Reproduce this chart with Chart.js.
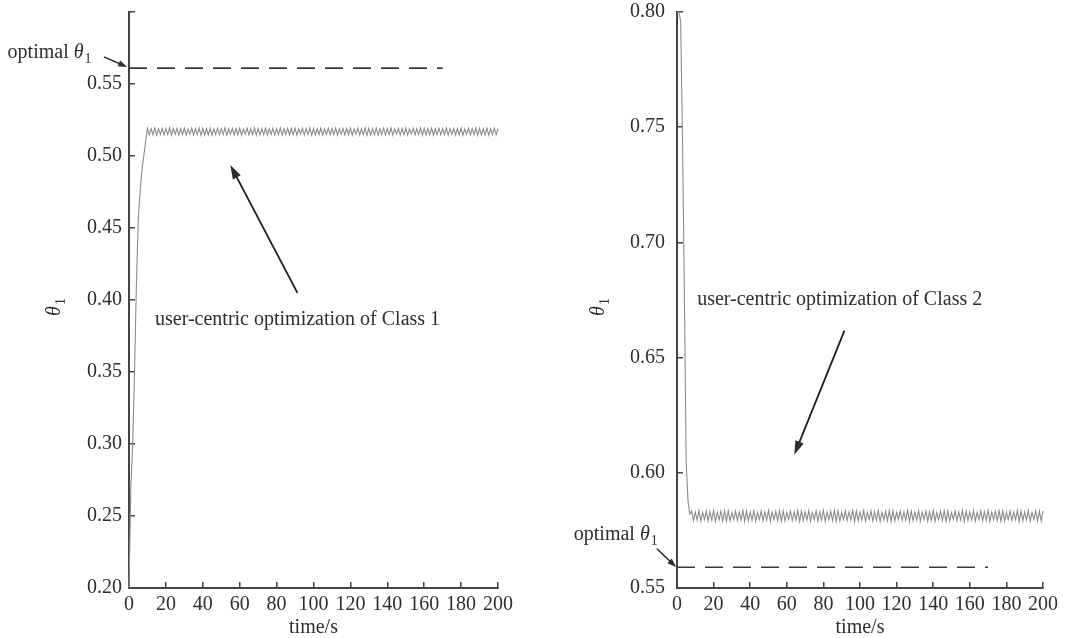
<!DOCTYPE html>
<html lang="en">
<head>
  <meta charset="UTF-8">
  <title>theta_1 convergence</title>
  <script src="https://cdn.jsdelivr.net/npm/chart.js"></script>
  <style>
    html, body { margin: 0; padding: 0; background: #fff; }
    .wrap { position: relative; width: 1065px; height: 638px; }
    canvas { position: absolute; top: 0; }
    #leftChart { left: 0; }
    #rightChart { left: 540px; }
  </style>
</head>
<body>
  <div class="wrap">
    <canvas id="leftChart" width="540" height="638"></canvas>
    <canvas id="rightChart" width="525" height="638"></canvas>
  </div>

  <script>
    // time axis (seconds)
    const timeSec = [
      0,1,2,3,4,5,6,7,8,9,10,11,12,13,14,15,16,17,18,19,
      20,21,22,23,24,25,26,27,28,29,30,31,32,33,34,35,36,37,38,39,
      40,41,42,43,44,45,46,47,48,49,50,51,52,53,54,55,56,57,58,59,
      60,61,62,63,64,65,66,67,68,69,70,71,72,73,74,75,76,77,78,79,
      80,81,82,83,84,85,86,87,88,89,90,91,92,93,94,95,96,97,98,99,
      100,101,102,103,104,105,106,107,108,109,110,111,112,113,114,115,116,117,118,119,
      120,121,122,123,124,125,126,127,128,129,130,131,132,133,134,135,136,137,138,139,
      140,141,142,143,144,145,146,147,148,149,150,151,152,153,154,155,156,157,158,159,
      160,161,162,163,164,165,166,167,168,169,170,171,172,173,174,175,176,177,178,179,
      180,181,182,183,184,185,186,187,188,189,190,191,192,193,194,195,196,197,198,199,
      200
    ];

    // Class 1: theta_1 under user-centric optimization
    const class1Theta = [
      0.200,0.270,0.300,0.350,0.410,0.455,0.475,0.490,0.500,0.510,
      0.5192,0.5146,0.5190,0.5148,0.5194,0.5145,0.5189,0.5150,0.5193,0.5147,
      0.5190,0.5149,0.5195,0.5144,0.5188,0.5151,0.5192,0.5146,0.5191,0.5148,
      0.5194,0.5145,0.5187,0.5152,0.5193,0.5146,0.5190,0.5149,0.5195,0.5144,
      0.5192,0.5146,0.5190,0.5148,0.5194,0.5145,0.5189,0.5150,0.5193,0.5147,
      0.5190,0.5149,0.5195,0.5144,0.5188,0.5151,0.5192,0.5146,0.5191,0.5148,
      0.5194,0.5145,0.5187,0.5152,0.5193,0.5146,0.5190,0.5149,0.5195,0.5144,
      0.5192,0.5146,0.5190,0.5148,0.5194,0.5145,0.5189,0.5150,0.5193,0.5147,
      0.5190,0.5149,0.5195,0.5144,0.5188,0.5151,0.5192,0.5146,0.5191,0.5148,
      0.5194,0.5145,0.5187,0.5152,0.5193,0.5146,0.5190,0.5149,0.5195,0.5144,
      0.5192,0.5146,0.5190,0.5148,0.5194,0.5145,0.5189,0.5150,0.5193,0.5147,
      0.5190,0.5149,0.5195,0.5144,0.5188,0.5151,0.5192,0.5146,0.5191,0.5148,
      0.5194,0.5145,0.5187,0.5152,0.5193,0.5146,0.5190,0.5149,0.5195,0.5144,
      0.5192,0.5146,0.5190,0.5148,0.5194,0.5145,0.5189,0.5150,0.5193,0.5147,
      0.5190,0.5149,0.5195,0.5144,0.5188,0.5151,0.5192,0.5146,0.5191,0.5148,
      0.5194,0.5145,0.5187,0.5152,0.5193,0.5146,0.5190,0.5149,0.5195,0.5144,
      0.5192,0.5146,0.5190,0.5148,0.5194,0.5145,0.5189,0.5150,0.5193,0.5147,
      0.5190,0.5149,0.5195,0.5144,0.5188,0.5151,0.5192,0.5146,0.5191,0.5148,
      0.5194,0.5145,0.5187,0.5152,0.5193,0.5146,0.5190,0.5149,0.5195,0.5144,
      0.5192,0.5146,0.5190,0.5148,0.5194,0.5145,0.5189,0.5150,0.5193,0.5147,
      0.5191
    ];

    // Class 2: theta_1 under user-centric optimization
    const class2Theta = [
      0.800,0.800,0.796,0.745,0.680,0.605,0.588,0.582,
      0.5834,0.5792,0.5830,0.5795,0.5836,0.5790,0.5828,0.5797,0.5835,0.5791,
      0.5831,0.5794,0.5837,0.5789,0.5829,0.5796,0.5833,0.5792,0.5836,0.5790,
      0.5835,0.5791,0.5827,0.5798,0.5834,0.5793,0.5830,0.5795,0.5837,0.5789,
      0.5834,0.5792,0.5830,0.5795,0.5836,0.5790,0.5828,0.5797,0.5835,0.5791,
      0.5831,0.5794,0.5837,0.5789,0.5829,0.5796,0.5833,0.5792,0.5836,0.5790,
      0.5835,0.5791,0.5827,0.5798,0.5834,0.5793,0.5830,0.5795,0.5837,0.5789,
      0.5834,0.5792,0.5830,0.5795,0.5836,0.5790,0.5828,0.5797,0.5835,0.5791,
      0.5831,0.5794,0.5837,0.5789,0.5829,0.5796,0.5833,0.5792,0.5836,0.5790,
      0.5835,0.5791,0.5827,0.5798,0.5834,0.5793,0.5830,0.5795,0.5837,0.5789,
      0.5834,0.5792,0.5830,0.5795,0.5836,0.5790,0.5828,0.5797,0.5835,0.5791,
      0.5831,0.5794,0.5837,0.5789,0.5829,0.5796,0.5833,0.5792,0.5836,0.5790,
      0.5835,0.5791,0.5827,0.5798,0.5834,0.5793,0.5830,0.5795,0.5837,0.5789,
      0.5834,0.5792,0.5830,0.5795,0.5836,0.5790,0.5828,0.5797,0.5835,0.5791,
      0.5831,0.5794,0.5837,0.5789,0.5829,0.5796,0.5833,0.5792,0.5836,0.5790,
      0.5835,0.5791,0.5827,0.5798,0.5834,0.5793,0.5830,0.5795,0.5837,0.5789,
      0.5834,0.5792,0.5830,0.5795,0.5836,0.5790,0.5828,0.5797,0.5835,0.5791,
      0.5831,0.5794,0.5837,0.5789,0.5829,0.5796,0.5833,0.5792,0.5836,0.5790,
      0.5835,0.5791,0.5827,0.5798,0.5834,0.5793,0.5830,0.5795,0.5837,0.5789,
      0.5834,0.5792,0.5830,0.5795,0.5836,0.5790,0.5828,0.5797,0.5835,0.5791,
      0.5833,0.5792,0.5835
    ];

    // optimal theta_1 reference (dashed) and where it is drawn
    const optimalClass1 = [0.561, 0.561];
    const optimalClass2 = [0.559, 0.559];
    const optimalSpan = [0, 170];

    const timeRange = [0, 200];
    const class1Range = [0.20, 0.60];
    const class2Range = [0.55, 0.80];

    const SERIF = "'Liberation Serif', 'Times New Roman', serif";
    const INK = '#2e2e2e';
    Chart.defaults.font.family = SERIF;
    Chart.defaults.font.size = 20;
    Chart.defaults.color = INK;

    function toPoints(xs, ys) {
      return xs.map((x, i) => ({ x: x, y: ys[i] }));
    }

    // "optimal θ1" style label: regular prefix, italic theta, subscript 1
    function drawThetaLabel(ctx, prefix, x, y, align) {
      const reg = '20px ' + SERIF;
      const ita = 'italic 20px ' + SERIF;
      const sub = '14px ' + SERIF;
      ctx.font = reg; const w1 = ctx.measureText(prefix).width;
      ctx.font = ita; const w2 = ctx.measureText('θ').width;
      ctx.font = sub; const w3 = ctx.measureText('1').width;
      const total = w1 + w2 + 1 + w3;
      const sx = align === 'center' ? x - total / 2 : x;
      ctx.textAlign = 'left';
      ctx.textBaseline = 'alphabetic';
      ctx.font = reg; ctx.fillText(prefix, sx, y);
      ctx.font = ita; ctx.fillText('θ', sx + w1, y);
      ctx.font = sub; ctx.fillText('1', sx + w1 + w2 + 1, y + 5);
    }

    function drawArrow(ctx, x1, y1, x2, y2, len, half) {
      const a = Math.atan2(y2 - y1, x2 - x1);
      const c = Math.cos(a), s = Math.sin(a);
      ctx.beginPath();
      ctx.moveTo(x1, y1);
      ctx.lineTo(x2 - c * len * 0.8, y2 - s * len * 0.8);
      ctx.stroke();
      ctx.beginPath();
      ctx.moveTo(x2, y2);
      ctx.lineTo(x2 - len * c + half * s, y2 - len * s - half * c);
      ctx.lineTo(x2 - len * c - half * s, y2 - len * s + half * c);
      ctx.closePath();
      ctx.fill();
    }

    // axis title θ1 plus the text/arrow notes, anchored in data units
    const notesPlugin = {
      id: 'notes',
      afterDraw(chart, args, opts) {
        const ctx = chart.ctx;
        const xs = chart.scales.x, ys = chart.scales.y;
        const px = t => xs.getPixelForValue(t);
        const py = v => ys.getPixelForValue(v);
        ctx.save();
        ctx.fillStyle = INK;
        ctx.strokeStyle = '#1e1e1e';

        ctx.save();
        ctx.translate(opts.yTitleX, (ys.top + ys.bottom) / 2 + 7);
        ctx.rotate(-Math.PI / 2);
        drawThetaLabel(ctx, '', 0, 7, 'center');
        ctx.restore();

        drawThetaLabel(ctx, 'optimal ', px(opts.optText[0]), py(opts.optText[1]), 'left');
        ctx.lineWidth = 1.4;
        drawArrow(ctx, px(opts.optArrow[0]), py(opts.optArrow[1]),
                  px(opts.optArrow[2]), py(opts.optArrow[3]), 9, 3.2);

        ctx.font = '20px ' + SERIF;
        ctx.textAlign = 'left';
        ctx.textBaseline = 'alphabetic';
        ctx.fillText(opts.text, px(opts.textAt[0]), py(opts.textAt[1]));
        ctx.lineWidth = 1.8;
        drawArrow(ctx, px(opts.arrow[0]), py(opts.arrow[1]),
                  px(opts.arrow[2]), py(opts.arrow[3]), 14, 4.5);
        ctx.restore();
      }
    };

    function makeChart(id, values, optimal, yRange, hideTop, yWidth, yPad, padRight, notes) {
      const ctx = document.getElementById(id).getContext('2d');
      return new Chart(ctx, {
        type: 'line',
        data: {
          datasets: [
            {
              data: toPoints(timeSec, values),
              borderColor: '#8c8c8c',
              borderWidth: 1.1,
              pointRadius: 0,
              tension: 0,
              clip: false
            },
            {
              data: toPoints(optimalSpan, optimal),
              borderColor: '#3a3a3a',
              borderWidth: 1.6,
              borderDash: [18, 10],
              pointRadius: 0,
              clip: false
            }
          ]
        },
        options: {
          responsive: false,
          animation: false,
          devicePixelRatio: 1,
          layout: { padding: { top: 12, right: padRight, left: 0, bottom: 0 } },
          plugins: {
            legend: { display: false },
            tooltip: { enabled: false },
            notes: notes
          },
          scales: {
            x: {
              type: 'linear',
              min: timeRange[0],
              max: timeRange[1],
              ticks: { stepSize: 20, padding: 11, maxRotation: 0, autoSkip: false, color: INK },
              grid: { drawOnChartArea: false, drawTicks: true, tickLength: -6, color: '#444', lineWidth: 1.5 },
              border: { display: true, color: '#444', width: 2 },
              title: {
                display: true,
                text: 'time/s',
                color: INK,
                font: { size: 20, lineHeight: 1 },
                padding: { top: 0, bottom: 0 }
              },
              afterFit(scale) {
                scale.height = 50;
                scale.paddingLeft = 0;
                scale.paddingRight = 0;
              }
            },
            y: {
              type: 'linear',
              min: yRange[0],
              max: yRange[1],
              ticks: {
                stepSize: 0.05,
                padding: yPad,
                color: INK,
                callback: v => (hideTop && v > yRange[1] - 0.01) ? '' : Number(v).toFixed(2)
              },
              grid: { drawOnChartArea: false, drawTicks: true, tickLength: -6, color: '#444', lineWidth: 1.5 },
              border: { display: true, color: '#444', width: 2 },
              afterFit(scale) {
                scale.width = yWidth;
                scale.paddingTop = 0;
                scale.paddingBottom = 0;
              }
            }
          }
        },
        plugins: [notesPlugin]
      });
    }

    makeChart('leftChart', class1Theta, optimalClass1, class1Range, true, 129, 13, 42, {
      yTitleX: 53,
      optText: [-65.8, 0.5681],
      optArrow: [-13.6, 0.5688, -1.0, 0.5618],
      text: 'user-centric optimization of Class 1',
      textAt: [14.1, 0.3826],
      arrow: [91.3, 0.4049, 54.9, 0.4938]
    });

    makeChart('rightChart', class2Theta, optimalClass2, class2Range, false, 137, 18, 22, {
      yTitleX: 57,
      optText: [-56.4, 0.5709],
      optArrow: [-11.0, 0.5670, -0.5, 0.5591],
      text: 'user-centric optimization of Class 2',
      textAt: [11.0, 0.6730],
      arrow: [91.5, 0.6617, 64.1, 0.6078]
    });
  </script>
</body>
</html>
